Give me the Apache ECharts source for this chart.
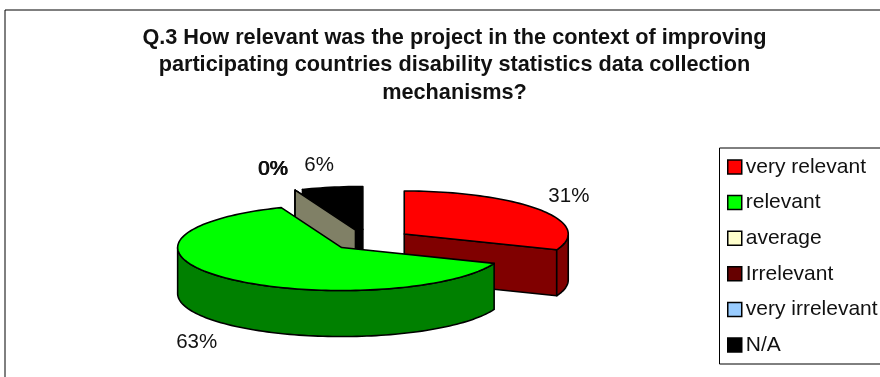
<!DOCTYPE html>
<html>
<head>
<meta charset="utf-8">
<style>html,body{margin:0;padding:0;background:#fff}#chart{width:880px;height:377px}</style>
<script src="https://cdn.jsdelivr.net/npm/echarts@6/dist/echarts.min.js"></script>
</head>
<body>
<div id="chart"></div>
<script>
// Survey answers, in percent of respondents
const categories = ['very relevant', 'relevant', 'average', 'Irrelevant', 'very irrelevant', 'N/A'];
const shares = [31, 63, 0, 0, 0, 6];
const colors = ['#ff0000', '#00ff00', '#ffffcc', '#660000', '#99ccff', '#000000'];
const titleLines = [
  'Q.3 How relevant was the project in the context of improving',
  'participating countries disability statistics data collection',
  'mechanisms?'
];

// Projection of the tilted pie
const pie = { cx: 370.5, cy: 240, rx: 164, ry: 43, depth: 46, explode: 40.8 };
const fontFamily = '"Liberation Sans", Arial, sans-serif';

// Paint order, back of the pie first
const paintOrder = [5, 4, 3, 2, 0, 1];
// Label nudges from each slice's outer mid-rim point
const labelNudge = [[29, -13], [-29, 64], [-22.5, -21], [-22, -21], [-21.5, -21], [-13, -22]];

const total = shares.reduce((a, b) => a + b, 0);
const starts = [];
shares.reduce((sum, v, i) => { starts[i] = sum; return sum + v; }, 0);
const toRad = (share) => (share / total) * 2 * Math.PI;

function darken(hex) {
  const n = parseInt(hex.slice(1), 16);
  const half = (c) => Math.round(c / 2);
  return 'rgb(' + half((n >> 16) & 255) + ',' + half((n >> 8) & 255) + ',' + half(n & 255) + ')';
}

function rim(ox, oy, t) {
  return [ox + pie.rx * Math.sin(t), oy - pie.ry * Math.cos(t)];
}

function drop(p) { return [p[0], p[1] + pie.depth]; }

function arcPoints(ox, oy, a, b) {
  const steps = Math.max(1, Math.ceil((b - a) / 0.03));
  const pts = [];
  for (let k = 0; k <= steps; k++) pts.push(rim(ox, oy, a + (b - a) * k / steps));
  return pts;
}

function facePolygon(points, fill) {
  return {
    type: 'polygon',
    shape: { points },
    style: { fill, stroke: '#000', lineWidth: 1.6, lineJoin: 'round' }
  };
}

function renderSlice(i, api) {
  const value = api.value(0);
  const a = toRad(starts[i]);
  const b = a + toRad(value);
  const mid = (a + b) / 2;
  const ox = pie.cx + pie.explode * Math.sin(mid);
  const oy = pie.cy - pie.explode * (pie.ry / pie.rx) * Math.cos(mid);
  const apex = [ox, oy];
  const wall = darken(colors[i]);
  const children = [];

  // Cut faces: only those turned towards the viewer
  const ringA = a % (2 * Math.PI), ringB = b % (2 * Math.PI);
  if (ringA >= Math.PI) {
    const p = rim(ox, oy, a);
    children.push(facePolygon([apex, p, drop(p), drop(apex)], wall));
  }
  if (ringB > 0 && ringB < Math.PI) {
    const p = rim(ox, oy, b);
    children.push(facePolygon([apex, p, drop(p), drop(apex)], wall));
  }

  // Outer wall on the front half of the rim
  const wa = Math.max(a, Math.PI / 2), wb = Math.min(b, 3 * Math.PI / 2);
  if (wb > wa) {
    const top = arcPoints(ox, oy, wa, wb);
    children.push(facePolygon(top.concat(top.map(drop).reverse()), wall));
  }

  // Top surface
  if (b > a) {
    children.push(facePolygon([apex].concat(arcPoints(ox, oy, a, b)), colors[i]));
  }

  // Value label
  const anchor = rim(ox, oy, mid);
  children.push({
    type: 'text',
    z2: 10,
    style: {
      x: anchor[0] + labelNudge[i][0],
      y: anchor[1] + labelNudge[i][1],
      text: value + '%',
      fill: '#111',
      font: '20.5px ' + fontFamily,
      align: 'center',
      verticalAlign: 'middle'
    }
  });
  return { type: 'group', children };
}

const series = categories.map((name, i) => ({
  type: 'custom',
  name,
  coordinateSystem: 'none',
  z: 2 + paintOrder.indexOf(i),
  silent: true,
  animation: false,
  itemStyle: { color: colors[i], borderColor: '#000', borderWidth: 1.5 },
  data: [[shares[i]]],
  renderItem: (params, api) => renderSlice(i, api)
}));

const chart = echarts.init(document.getElementById('chart'), null, { renderer: 'canvas' });
chart.setOption({
  animation: false,
  backgroundColor: '#fff',
  title: {
    text: titleLines.join('\n'),
    left: 449.5,
    top: 19,
    textAlign: 'center',
    textStyle: { fontFamily, fontSize: 21.7, fontWeight: 'bold', color: '#111', lineHeight: 27.5 }
  },
  legend: {
    orient: 'vertical',
    left: 727,
    top: 156,
    padding: 0,
    icon: 'rect',
    itemWidth: 14,
    itemHeight: 14,
    itemGap: 13.6,
    itemStyle: { borderColor: '#000', borderWidth: 1.5 },
    selectedMode: false,
    textStyle: { fontFamily, fontSize: 21, color: '#111', lineHeight: 22, padding: [0, 0, 0, -1] },
    data: categories
  },
  graphic: [
    {
      type: 'rect', silent: true, z: 0,
      shape: { x: 5, y: 10, width: 900, height: 400 },
      style: { fill: 'none', stroke: '#000', lineWidth: 1 }
    },
    {
      type: 'rect', silent: true, z: 1,
      shape: { x: 719.5, y: 148, width: 200, height: 216 },
      style: { fill: '#fff', stroke: '#000', lineWidth: 1 }
    }
  ],
  series
});
</script>
</body>
</html>
